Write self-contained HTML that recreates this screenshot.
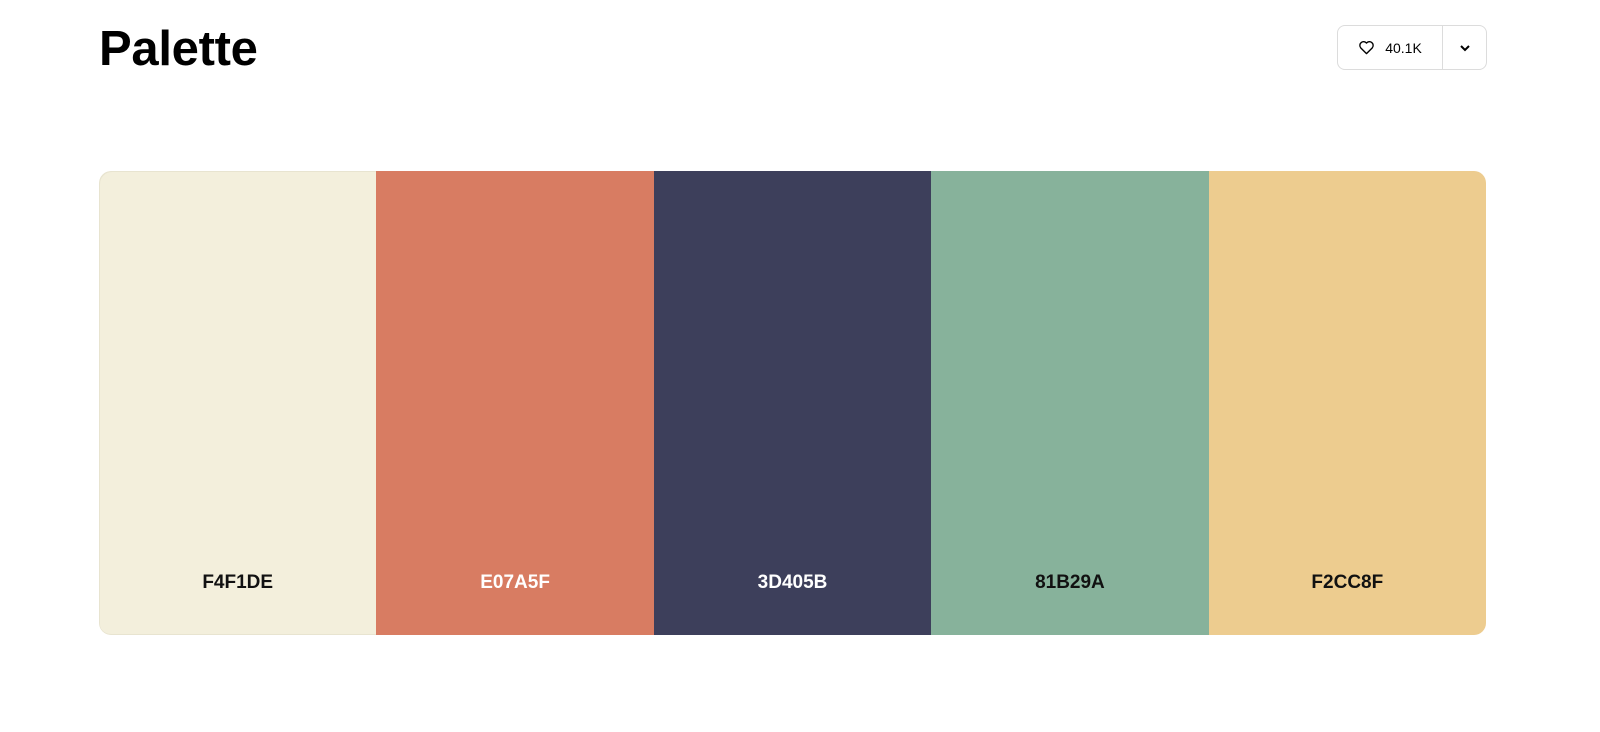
<!DOCTYPE html>
<html><head><meta charset="utf-8"><style>
body{margin:0;width:1600px;height:732px;background:#fff;font-family:"Liberation Sans",sans-serif;position:relative;overflow:hidden}
.title{position:absolute;left:99px;top:21px;font-size:49px;font-weight:bold;letter-spacing:-0.3px;color:#000;margin:0;line-height:1.15}
.btn{position:absolute;left:1337px;top:25px;width:148px;height:43px;border:1px solid #dcdcdc;border-radius:8px;box-sizing:content-box}
.like{position:absolute;left:0;top:0;width:104px;height:43px;display:flex;align-items:center;justify-content:center;gap:10px;font-size:14px;color:#000}
.div{position:absolute;left:104px;top:0;width:1px;height:43px;background:#dcdcdc}
.more{position:absolute;left:105px;top:0;width:43px;height:43px;display:flex;align-items:center;justify-content:center}
.pal{position:absolute;left:99px;top:171px;width:1387px;height:464px;border-radius:12px;overflow:hidden;display:flex}
.sw{flex:1;position:relative}
.sw span{position:absolute;left:0;right:0;top:401px;text-align:center;font-size:19px;font-weight:bold}
</style></head><body>
<h1 class="title">Palette</h1>
<div class="btn">
<div class="like">
<svg width="17" height="15" viewBox="0 0 24 22"><path d="M12 20 L3.5 11.5 A5 5 0 0 1 12 4.5 A5 5 0 0 1 20.5 11.5 Z" fill="none" stroke="#000" stroke-width="2" stroke-linejoin="round"/></svg>
<span>40.1K</span></div>
<div class="div"></div>
<div class="more"><svg width="12" height="8" viewBox="0 0 12 8"><path d="M2 2 L6 6 L10 2" fill="none" stroke="#000" stroke-width="2"/></svg></div>
</div>
<div class="pal">
<div class="sw" style="background:#f3efdc;box-shadow:inset 1px 1px 0 #e8e4d0,inset 0 -1px 0 #e8e4d0;border-radius:12px 0 0 12px"><span style="color:#111">F4F1DE</span></div>
<div class="sw" style="background:#d87c62"><span style="color:#fff">E07A5F</span></div>
<div class="sw" style="background:#3d3f5b"><span style="color:#fff">3D405B</span></div>
<div class="sw" style="background:#87b29b"><span style="color:#111">81B29A</span></div>
<div class="sw" style="background:#edcc8f"><span style="color:#111">F2CC8F</span></div>
</div>
</body></html>
